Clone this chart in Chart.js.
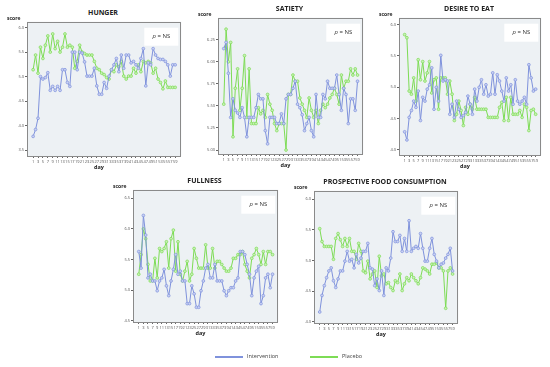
<!DOCTYPE html>
<html>
<head>
<meta charset="utf-8">
<script src="https://cdn.jsdelivr.net/npm/chart.js@4/dist/chart.umd.min.js"></script>
<style>
  body { margin: 0; width: 550px; height: 367px; background: #fff; position: relative; overflow: hidden; font-family: "Open Sans", sans-serif; }
  canvas { position: absolute; }
  .title { position: absolute; font-weight: bold; font-size: 7px; color: #222; transform: translate(-50%, -50%); white-space: nowrap; line-height: 1; }
  .score { position: absolute; font-weight: bold; font-size: 5px; color: #222; line-height: 1; transform: translateY(-50%); }
  .day { position: absolute; font-weight: bold; font-size: 5.5px; color: #222; line-height: 1; transform: translate(-50%, -50%); }
  .leg { position: absolute; font-size: 5.5px; color: #444; line-height: 1; transform: translateY(-50%); }
  .legline { position: absolute; height: 1.5px; width: 28px; }
</style>
</head>
<body>

<script>
// days 1..59
const days = Array.from({ length: 59 }, (_, i) => i + 1);

// HUNGER
const hungerIntervention = [3.78, 3.92, 4.15, 5.0, 4.95, 4.98, 5.08, 4.72, 4.8, 4.72,
  4.8, 4.72, 5.14, 5.14, 4.88, 4.8, 5.5, 5.5, 5.14, 5.5,
  5.48, 5.3, 5.01, 5.01, 5.01, 5.17, 4.81, 4.64, 4.64, 4.88,
  4.76, 5.01, 5.14, 5.24, 5.37, 5.1, 5.44, 5.17, 5.44, 5.44,
  5.28, 5.31, 5.24, 5.17, 5.37, 5.57, 4.81, 5.28, 5.24, 5.57,
  5.44, 5.37, 5.35, 5.35, 5.31, 5.24, 5.01, 5.24, 5.24];
const hungerPlacebo = [5.14, 5.44, 5.07, 5.6, 5.37, 5.64, 5.83, 5.5, 5.87, 5.57,
  5.72, 5.5, 5.6, 5.87, 5.6, 5.64, 5.6, 5.17, 5.31, 5.64,
  5.5, 5.47, 5.44, 5.44, 5.44, 5.31, 5.17, 5.14, 5.07, 5.04,
  4.98, 4.95, 5.14, 5.1, 5.24, 5.2, 5.31, 5.01, 4.95, 5.01,
  5.01, 5.17, 5.07, 5.24, 5.1, 5.31, 5.28, 5.31, 5.28, 5.07,
  5.17, 4.95, 4.88, 4.75, 4.91, 4.78, 4.78, 4.78, 4.78];
const hungerTicks = [3.5, 4.0, 4.5, 5.0, 5.5, 6.0];

// SATIETY
const satietyIntervention = [6.15, 6.22, 5.87, 5.37, 5.58, 5.45, 5.42, 5.37, 5.48, 5.37,
  5.15, 5.37, 5.37, 5.37, 5.48, 5.63, 5.58, 5.58, 5.22, 5.07,
  5.37, 5.37, 5.37, 5.3, 5.3, 5.41, 5.3, 5.58, 5.63, 5.63,
  5.7, 5.78, 5.52, 5.48, 5.4, 5.22, 5.3, 5.37, 5.22, 5.15,
  5.63, 5.37, 5.37, 5.63, 5.58, 5.78, 5.7, 5.7, 5.7, 5.85,
  5.63, 5.45, 5.7, 5.63, 5.3, 5.58, 5.58, 5.45, 5.78];
const satietyPlacebo = [5.52, 6.37, 6.0, 6.22, 5.15, 5.7, 5.92, 5.45, 5.7, 6.07,
  5.37, 5.92, 5.3, 5.3, 5.3, 5.48, 5.41, 5.45, 5.37, 5.63,
  5.52, 5.45, 5.3, 5.22, 5.3, 5.3, 5.3, 5.0, 5.63, 5.63,
  5.85, 5.78, 5.78, 5.59, 5.52, 5.45, 5.37, 5.59, 5.45, 5.37,
  5.45, 5.3, 5.45, 5.52, 5.48, 5.52, 5.59, 5.63, 5.7, 5.63,
  5.52, 5.85, 5.7, 5.78, 5.78, 5.92, 5.85, 5.92, 5.85];
const satietyTicks = [5.0, 5.25, 5.5, 5.75, 6.0, 6.25];

// DESIRE TO EAT
const desireIntervention = [4.29, 4.16, 4.52, 4.63, 4.78, 4.68, 4.94, 4.47, 4.84, 4.78,
  4.97, 5.04, 5.31, 4.65, 5.0, 4.78, 5.51, 5.10, 5.12, 5.10,
  4.57, 4.73, 4.52, 4.78, 4.65, 4.52, 4.55, 4.6, 4.86, 4.73,
  4.57, 4.97, 4.78, 5.0, 5.12, 4.89, 5.04, 4.86, 4.89, 5.23,
  4.89, 5.2, 5.10, 4.94, 4.78, 5.15, 4.94, 5.04, 4.73, 5.12,
  4.78, 4.73, 4.78, 4.84, 4.73, 5.36, 5.15, 4.94, 4.97];
const desirePlacebo = [5.84, 5.79, 4.94, 4.89, 5.15, 4.78, 5.44, 5.12, 5.41, 5.10,
  5.23, 5.41, 4.91, 5.12, 5.15, 4.65, 5.15, 5.15, 5.15, 4.89,
  5.10, 4.89, 4.47, 4.57, 4.78, 4.63, 4.39, 4.68, 4.57, 4.73,
  4.65, 4.84, 4.65, 4.65, 4.65, 4.65, 4.65, 4.52, 4.52, 4.52,
  4.52, 4.52, 4.68, 4.76, 4.47, 4.84, 4.47, 4.84, 4.57, 4.57,
  4.57, 4.63, 4.52, 4.73, 4.68, 4.31, 4.63, 4.65, 4.57];
const desireTicks = [4.0, 4.5, 5.0, 5.5, 6.0];

// FULLNESS
const fullnessIntervention = [5.63, 5.36, 6.22, 5.90, 5.20, 5.26, 5.15, 5.15, 4.99, 5.15,
  5.20, 5.34, 5.07, 4.91, 5.15, 5.34, 5.58, 5.26, 5.31, 5.15,
  5.15, 4.78, 4.78, 5.07, 4.94, 4.72, 4.72, 4.99, 5.15, 5.36,
  5.42, 5.20, 5.20, 5.42, 5.15, 5.15, 5.15, 4.99, 4.91, 4.99,
  5.04, 5.04, 5.15, 5.20, 5.63, 5.63, 5.58, 5.42, 5.26, 4.91,
  5.20, 5.31, 5.39, 4.78, 4.91, 5.20, 5.26, 5.04, 5.26];
const fullnessPlacebo = [5.26, 5.58, 6.0, 5.84, 5.42, 5.15, 5.15, 5.52, 5.20, 5.68,
  5.63, 5.68, 5.79, 5.36, 5.84, 5.98, 5.31, 5.79, 5.26, 5.15,
  5.31, 5.47, 5.15, 5.26, 5.68, 5.52, 5.36, 5.36, 5.36, 5.74,
  5.36, 5.36, 5.68, 5.36, 5.47, 5.47, 5.42, 5.36, 5.31, 5.31,
  5.36, 5.52, 5.52, 5.58, 5.58, 5.63, 5.42, 5.31, 5.20, 5.52,
  5.58, 5.68, 5.58, 5.42, 5.63, 5.42, 5.63, 5.63, 5.58];
const fullnessTicks = [4.5, 5.0, 5.5, 6.0, 6.5];

// PROSPECTIVE FOOD CONSUMPTION
const pfcIntervention = [4.16, 4.43, 4.59, 4.72, 4.83, 4.88, 4.67, 4.56, 4.70, 4.83,
  4.83, 4.99, 5.15, 4.99, 5.02, 4.88, 5.10, 4.96, 5.04, 5.15,
  5.15, 5.28, 4.88, 4.86, 4.59, 4.70, 4.51, 4.83, 4.43, 4.88,
  4.83, 5.04, 5.47, 5.31, 5.31, 5.41, 5.15, 5.36, 5.15, 5.65,
  5.15, 5.20, 5.23, 5.20, 5.44, 5.20, 4.99, 4.99, 5.20, 5.36,
  5.10, 4.99, 4.88, 4.94, 4.96, 5.04, 5.10, 5.20, 4.83];
const pfcPlacebo = [5.52, 5.31, 5.23, 5.23, 5.23, 5.23, 5.02, 5.36, 5.44, 5.34,
  5.23, 5.36, 5.23, 5.36, 5.15, 5.15, 5.02, 5.28, 5.15, 4.83,
  4.80, 4.99, 4.70, 4.78, 4.83, 4.56, 5.07, 4.75, 4.78, 4.62,
  4.64, 4.56, 4.51, 4.67, 4.64, 4.78, 4.51, 4.62, 4.72, 4.67,
  4.78, 4.72, 4.67, 4.62, 4.72, 4.88, 4.86, 4.83, 4.78, 4.94,
  4.94, 4.96, 4.88, 4.88, 4.83, 4.22, 4.83, 4.88, 4.78];
const pfcTicks = [4.0, 4.5, 5.0, 5.5, 6.0];

const BLUE = '#7f92dc';
const GREEN = '#7ddc55';

// plot area boxes (L, T, R, B) and axis range
const panels = [
  { title: 'HUNGER', blue: hungerIntervention, green: hungerPlacebo, ticks: hungerTicks, dec: 1, min: 3.38, max: 6.12, box: [27, 19, 183, 156] },
  { title: 'SATIETY', blue: satietyIntervention, green: satietyPlacebo, ticks: satietyTicks, dec: 2, min: 4.955, max: 6.5, box: [218, 15, 365, 154] },
  { title: 'DESIRE TO EAT', blue: desireIntervention, green: desirePlacebo, ticks: desireTicks, dec: 1, min: 3.92, max: 6.11, box: [399, 15, 543, 155] },
  { title: 'FULLNESS', blue: fullnessIntervention, green: fullnessPlacebo, ticks: fullnessTicks, dec: 1, min: 4.48, max: 6.64, box: [133, 187, 280, 322] },
  { title: 'PROSPECTIVE FOOD CONSUMPTION', blue: pfcIntervention, green: pfcPlacebo, ticks: pfcTicks, dec: 1, min: 3.98, max: 6.14, box: [314, 188, 460, 323] },
];

const Y_W = 24, X_H = 9, PAD_T = 2, PAD_R = 3;

const framePlugin = {
  id: 'frame',
  beforeDraw(chart) {
    const a = chart.chartArea, ctx = chart.ctx;
    ctx.save();
    ctx.fillStyle = '#edf1f4';
    ctx.fillRect(a.left, a.top, a.right - a.left, a.bottom - a.top);
    ctx.restore();
  },
  afterDatasetsDraw(chart) {
    const a = chart.chartArea, ctx = chart.ctx;
    ctx.save();
    ctx.strokeStyle = '#8a8a8a';
    ctx.lineWidth = 1;
    ctx.strokeRect(Math.round(a.left) + 0.5, Math.round(a.top) + 0.5, Math.round(a.right - a.left) - 1, Math.round(a.bottom - a.top));
    // p = NS box
    const bw = 34, bh = 18;
    const bx = a.right - bw - 3, by = a.top + 6;
    ctx.fillStyle = '#ffffff';
    ctx.fillRect(bx, by, bw, bh);
    ctx.fillStyle = '#333';
    ctx.textBaseline = 'middle';
    ctx.font = 'italic 6px "Open Sans"';
    const pw = ctx.measureText('p').width;
    ctx.font = '6px "Open Sans"';
    const rest = ' = NS';
    const rw = ctx.measureText(rest).width;
    let tx = bx + (bw - pw - rw) / 2;
    ctx.font = 'italic 6px "Open Sans"';
    ctx.fillText('p', tx, by + bh / 2);
    ctx.font = '6px "Open Sans"';
    ctx.fillText(rest, tx + pw, by + bh / 2);
    ctx.restore();
  }
};

function addText(cls, text, x, y) {
  const d = document.createElement('div');
  d.className = cls;
  d.textContent = text;
  d.style.left = x + 'px';
  d.style.top = y + 'px';
  document.body.appendChild(d);
}

const charts = [];
panels.forEach((p) => {
  const [L, T, R, B] = p.box;
  const cv = document.createElement('canvas');
  const w = (R - L) + Y_W + PAD_R;
  const h = (B - T) + PAD_T + X_H;
  cv.width = w; cv.height = h;
  cv.style.left = (L - Y_W) + 'px';
  cv.style.top = (T - PAD_T) + 'px';
  cv.style.width = w + 'px'; cv.style.height = h + 'px';
  document.body.appendChild(cv);

  addText('title', p.title, (L + R) / 2 - 2, T - 7);
  addText('score', 'score', L - 20, T - 1);
  addText('day', 'day', (L + R) / 2 - 6, B + 12);

  const chart = new Chart(cv, {
    type: 'line',
    data: {
      datasets: [
        {
          label: 'Intervention',
          data: days.map((d, i) => ({ x: d, y: p.blue[i] })),
          borderColor: BLUE,
          backgroundColor: '#c9d1f2',
          pointBorderColor: BLUE,
          borderWidth: 1,
          pointRadius: 1.4,
          pointBorderWidth: 0.7,
          tension: 0,
        },
        {
          label: 'Placebo',
          data: days.map((d, i) => ({ x: d, y: p.green[i] })),
          borderColor: GREEN,
          backgroundColor: '#c8f0b6',
          pointBorderColor: GREEN,
          borderWidth: 1,
          pointRadius: 1.4,
          pointBorderWidth: 0.7,
          tension: 0,
        },
      ],
    },
    options: {
      responsive: false,
      animation: false,
      devicePixelRatio: 1,
      layout: { padding: { top: PAD_T, right: PAD_R, left: 0, bottom: 0 } },
      plugins: { legend: { display: false }, tooltip: { enabled: false }, title: { display: false } },
      scales: {
        x: {
          type: 'linear',
          min: -1.5,
          max: 61.5,
          afterBuildTicks: (s) => { s.ticks = days.filter((d) => d % 2 === 1).map((v) => ({ value: v })); },
          afterFit: (s) => { s.height = X_H; },
          ticks: { font: { size: 4, family: 'Open Sans' }, color: '#555', padding: 1, maxRotation: 0, autoSkip: false },
          grid: { drawOnChartArea: false, drawTicks: true, tickLength: 2, color: '#666' },
          border: { display: false },
        },
        y: {
          min: p.min,
          max: p.max,
          afterBuildTicks: (s) => { s.ticks = p.ticks.map((v) => ({ value: v })); },
          afterFit: (s) => { s.width = Y_W; },
          ticks: { font: { size: 4, family: 'Open Sans' }, color: '#555', padding: 1, callback: (v) => Number(v).toFixed(p.dec) },
          grid: { drawOnChartArea: false, drawTicks: true, tickLength: 2, color: '#666' },
          border: { display: false },
        },
      },
    },
    plugins: [framePlugin],
  });
  charts.push(chart);
});

// legend
function legend(color, label, x, y) {
  const l = document.createElement('div');
  l.className = 'legline';
  l.style.left = x + 'px';
  l.style.top = (y - 0.75) + 'px';
  l.style.background = color;
  document.body.appendChild(l);
  addText('leg', label, x + 32, y);
}
legend(BLUE, 'Intervention', 215, 357);
legend(GREEN, 'Placebo', 310, 357);
</script>
</body>
</html>
